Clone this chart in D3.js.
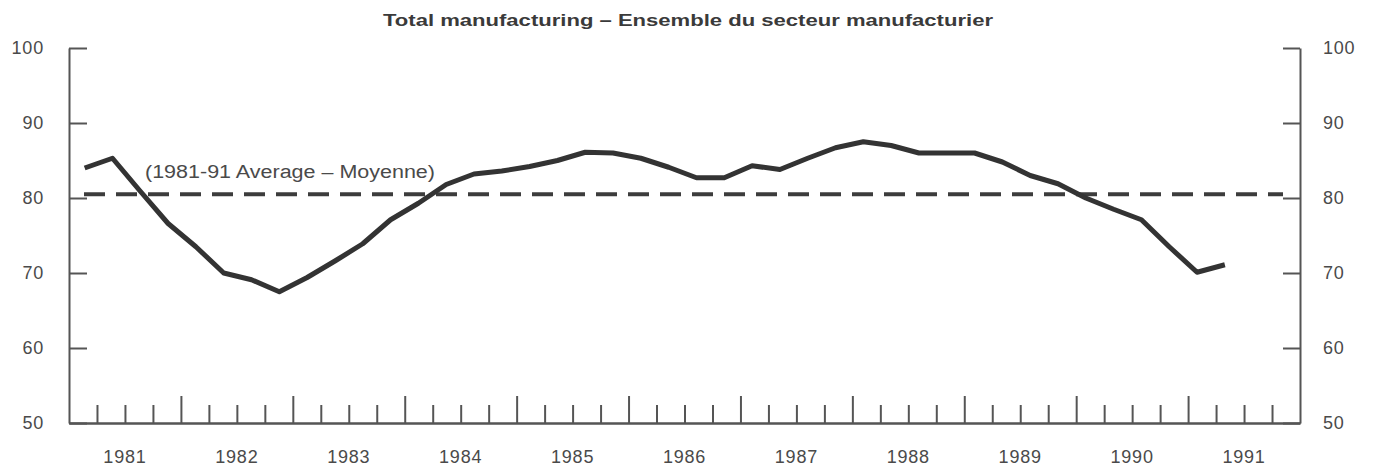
<!DOCTYPE html>
<html>
<head>
<meta charset="utf-8">
<script src="https://cdn.jsdelivr.net/npm/d3@7"></script>
<style>
  html, body { margin: 0; padding: 0; background: #fff; }
  svg { display: block; }
  text { font-family: "Liberation Sans", Arial, Helvetica, sans-serif; fill: #4a4a4a; }
</style>
</head>
<body>
<svg id="chart" width="1373" height="467"></svg>
<script>
// ---- data ----
const title = "Total manufacturing \u2013 Ensemble du secteur manufacturier";
const averageLabel = "(1981-91 Average \u2013 Moyenne)";
const averageValue = 80.5;
const startYear = 1981;
const yearLabels = ["1981","1982","1983","1984","1985","1986","1987","1988","1989","1990","1991"];
const yTicks = [50, 60, 70, 80, 90, 100];
// quarterly capacity utilization, 1981Q1 .. 1991Q2
const values = [
  84.0, 85.3, 80.9, 76.6,
  73.5, 70.0, 69.1, 67.5,
  69.4, 71.6, 73.9, 77.1,
  79.3, 81.8, 83.2, 83.6,
  84.2, 85.0, 86.1, 86.0,
  85.3, 84.1, 82.7, 82.7,
  84.3, 83.8, 85.3, 86.7,
  87.5, 87.0, 86.0, 86.0,
  86.0, 84.8, 83.0, 81.9,
  80.0, 78.5, 77.1, 73.5,
  70.1, 71.1
];

// ---- layout ----
const svg = d3.select("#chart");
const mLeft = 69, mRight = 1300, mTop = 48, mBottom = 423;
const x = d3.scaleLinear().domain([startYear, startYear + yearLabels.length]).range([mLeft, mRight]);
const y = d3.scaleLinear().domain([50, 100]).range([mBottom, mTop]);
const axisColor = "#555";

// title
svg.append("text")
  .attr("x", 688).attr("y", 26)
  .attr("text-anchor", "middle")
  .attr("font-size", 16).attr("font-weight", "bold")
  .attr("textLength", 610).attr("lengthAdjust", "spacingAndGlyphs")
  .style("fill", "#3a3a3a")
  .text(title);

// left y axis
const gL = svg.append("g").attr("transform", `translate(${mLeft},0)`)
  .call(d3.axisLeft(y).tickValues(yTicks).tickSizeInner(-18).tickSizeOuter(0).tickPadding(25));
// right y axis
const gR = svg.append("g").attr("transform", `translate(${mRight},0)`)
  .call(d3.axisRight(y).tickValues(yTicks).tickSizeInner(-17).tickSizeOuter(0).tickPadding(23));
[gL, gR].forEach(g => {
  g.select(".domain").attr("stroke", axisColor).attr("stroke-width", 2);
  g.selectAll(".tick line").attr("stroke", axisColor).attr("stroke-width", 2);
  g.selectAll(".tick text").attr("font-size", 18).style("fill", "#4a4a4a")
    .attr("font-family", "'Liberation Sans', Arial, sans-serif").attr("letter-spacing", 0.8);
});

// bottom axis: quarter ticks (short) and year ticks (tall)
const quarterTicks = [];
const yearTicks = [];
for (let i = 1; i < yearLabels.length * 4; i++) {
  const t = startYear + i / 4;
  if (i % 4 === 0) yearTicks.push(t); else quarterTicks.push(t);
}
const gBq = svg.append("g").attr("transform", `translate(0,${mBottom})`)
  .call(d3.axisBottom(x).tickValues(quarterTicks).tickSizeInner(-18).tickSizeOuter(0).tickFormat(""));
const gBy = svg.append("g").attr("transform", `translate(0,${mBottom})`)
  .call(d3.axisBottom(x).tickValues(yearTicks).tickSizeInner(-27).tickSizeOuter(0).tickFormat(""));
[gBq, gBy].forEach(g => {
  g.select(".domain").attr("stroke", axisColor).attr("stroke-width", 2);
  g.selectAll(".tick line").attr("stroke", axisColor).attr("stroke-width", 2);
});
// year labels at mid-year
svg.append("g").selectAll("text").data(yearLabels).join("text")
  .attr("x", (d, i) => x(startYear + i + 0.5))
  .attr("y", 463)
  .attr("text-anchor", "middle")
  .attr("font-size", 18).attr("letter-spacing", 0.8)
  .text(d => d);

// average dashed line
svg.append("line")
  .attr("x1", x(startYear) + 15).attr("x2", mRight - 17)
  .attr("y1", y(averageValue)).attr("y2", y(averageValue))
  .attr("stroke", "#3c3c3c").attr("stroke-width", 4)
  .attr("stroke-dasharray", "21,11");
svg.append("text")
  .attr("x", 145).attr("y", 178)
  .attr("font-size", 18)
  .attr("textLength", 290).attr("lengthAdjust", "spacingAndGlyphs")
  .text(averageLabel);

// main series (points slightly inset within each quarter, as in the source)
const line = d3.line()
  .x((d, i) => x(startYear + 0.56 / 4 + i * 0.2485))
  .y(d => y(d));
svg.append("path").datum(values)
  .attr("d", line)
  .attr("fill", "none")
  .attr("stroke", "#333")
  .attr("stroke-width", 5)
  .attr("stroke-linejoin", "round");
</script>
</body>
</html>
